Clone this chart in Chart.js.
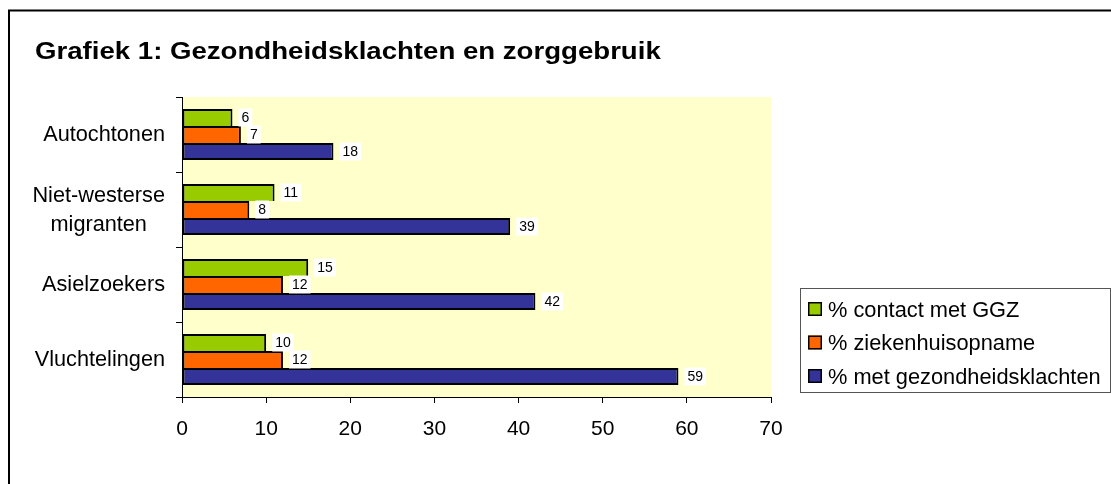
<!DOCTYPE html>
<html>
<head>
<meta charset="utf-8">
<script src="https://cdn.jsdelivr.net/npm/chart.js@4.4.1/dist/chart.umd.min.js"></script>
<style>
  body { margin: 0; background: #fff; }
  #wrap { width: 1111px; height: 484px; }
</style>
</head>
<body>
<div id="wrap"><canvas id="myChart" width="1111" height="484"></canvas></div>
<script>
// data
const categories = ['Autochtonen', ['Niet-westerse', 'migranten'], 'Asielzoekers', 'Vluchtelingen'];
const ggzValues = [6, 11, 15, 10];
const ziekenhuisValues = [7, 8, 12, 12];
const klachtenValues = [18, 39, 42, 59];
const seriesNames = ['% contact met GGZ', '% ziekenhuisopname', '% met gezondheidsklachten'];
const seriesColors = ['#99CC00', '#FF6600', '#333399'];
const xTicks = [0, 10, 20, 30, 40, 50, 60, 70];
const chartTitle = 'Grafiek 1: Gezondheidsklachten en zorggebruik';

const FONT = '"Liberation Sans", Arial, sans-serif';

// achtergrond, kader en titel
const frame = {
  id: 'frame',
  beforeDraw(chart) {
    const ctx = chart.ctx;
    const a = chart.chartArea;
    ctx.save();
    ctx.fillStyle = '#fff';
    ctx.fillRect(0, 0, chart.width, chart.height);
    ctx.fillStyle = '#FFFFCC';
    ctx.fillRect(a.left, a.top, a.right - a.left, a.bottom - a.top);
    ctx.strokeStyle = '#000';
    ctx.lineWidth = 2;
    ctx.strokeRect(9, 10.5, chart.width + 20, chart.height + 20);
    // titel is in het origineel breder uitgerekt
    ctx.fillStyle = '#000';
    ctx.font = 'bold 23px ' + FONT;
    ctx.textBaseline = 'alphabetic';
    ctx.translate(35, 59);
    ctx.scale(1.2, 1);
    ctx.fillText(chartTitle, 0, 0);
    ctx.restore();
  }
};

// categorie-namen: rechts uitgelijnd, meerdere regels onderling gecentreerd
const catLabels = {
  id: 'catLabels',
  afterDraw(chart) {
    const ctx = chart.ctx;
    const ys = chart.scales.y;
    ctx.save();
    ctx.font = '21.7px ' + FONT;
    ctx.fillStyle = '#000';
    ctx.textBaseline = 'middle';
    ctx.textAlign = 'center';
    const right = 165;
    categories.forEach((cat, i) => {
      const lines = Array.isArray(cat) ? cat : [cat];
      const maxW = Math.max(...lines.map(l => ctx.measureText(l).width));
      const cx = right - maxW / 2;
      const cy = ys.getPixelForValue(i);
      const lh = 29;
      lines.forEach((l, k) => {
        ctx.fillText(l, cx, cy + (k - (lines.length - 1) / 2) * lh + 1);
      });
    });
    ctx.restore();
  }
};

// waardes naast de balken, met wit vlakje
const barLabels = {
  id: 'barLabels',
  afterDatasetsDraw(chart) {
    const ctx = chart.ctx;
    ctx.save();
    ctx.font = '14px ' + FONT;
    ctx.textBaseline = 'middle';
    chart.data.datasets.forEach((ds, i) => {
      chart.getDatasetMeta(i).data.forEach((bar, j) => {
        const txt = String(ds.data[j]);
        const w = ctx.measureText(txt).width;
        const x = bar.x + 9;
        ctx.fillStyle = '#fff';
        ctx.fillRect(x - 3, bar.y - 9, w + 6, 18);
        ctx.fillStyle = '#000';
        ctx.fillText(txt, x, bar.y + 1);
      });
    });
    ctx.restore();
  }
};

// legenda rechts
const boxLegend = {
  id: 'boxLegend',
  afterDraw(chart) {
    const ctx = chart.ctx;
    ctx.save();
    ctx.strokeStyle = '#555';
    ctx.lineWidth = 1;
    ctx.strokeRect(800.5, 288.5, 310, 104);
    ctx.font = '21.8px ' + FONT;
    ctx.textBaseline = 'alphabetic';
    seriesNames.forEach((name, i) => {
      const cy = 309 + i * 33.5;
      ctx.fillStyle = seriesColors[i];
      ctx.fillRect(808, cy - 7, 14, 14);
      ctx.strokeStyle = '#000';
      ctx.lineWidth = 1.5;
      ctx.strokeRect(808.75, cy - 6.25, 12.5, 12.5);
      ctx.fillStyle = '#000';
      ctx.fillText(name, 828, cy + 7.5);
    });
    ctx.restore();
  }
};

const seriesData = [ggzValues, ziekenhuisValues, klachtenValues];

const ctx = document.getElementById('myChart').getContext('2d');
const chart = new Chart(ctx, {
  type: 'bar',
  data: {
    labels: categories,
    datasets: seriesData.map((vals, i) => ({
      label: seriesNames[i],
      data: vals,
      backgroundColor: seriesColors[i],
      borderColor: '#000',
      borderWidth: i < 2 ? { top: 2, right: 2, bottom: 0, left: 2 } : 2,
      borderSkipped: false,
      categoryPercentage: 0.68,
      barPercentage: 1
    }))
  },
  options: {
    indexAxis: 'y',
    responsive: false,
    animation: false,
    layout: { padding: { top: 97, right: 340, bottom: 0, left: 0 } },
    plugins: {
      legend: { display: false },
      title: { display: false },
      tooltip: { enabled: false }
    },
    scales: {
      x: {
        min: 0,
        max: 70,
        afterBuildTicks: s => { s.ticks = xTicks.map(v => ({ value: v })); },
        afterFit: s => { s.height = 87; },
        grid: { drawOnChartArea: false, drawTicks: true, tickLength: 6, color: '#000' },
        border: { display: true, color: '#000', width: 1 },
        ticks: { color: '#000', padding: 14, font: { family: FONT, size: 21 } }
      },
      y: {
        afterFit: s => { s.width = 182; },
        grid: { drawOnChartArea: false, drawTicks: true, tickLength: 6, color: '#000' },
        border: { display: true, color: '#000', width: 1 },
        ticks: { display: false }
      }
    }
  },
  plugins: [frame, catLabels, barLabels, boxLegend]
});
</script>
</body>
</html>
